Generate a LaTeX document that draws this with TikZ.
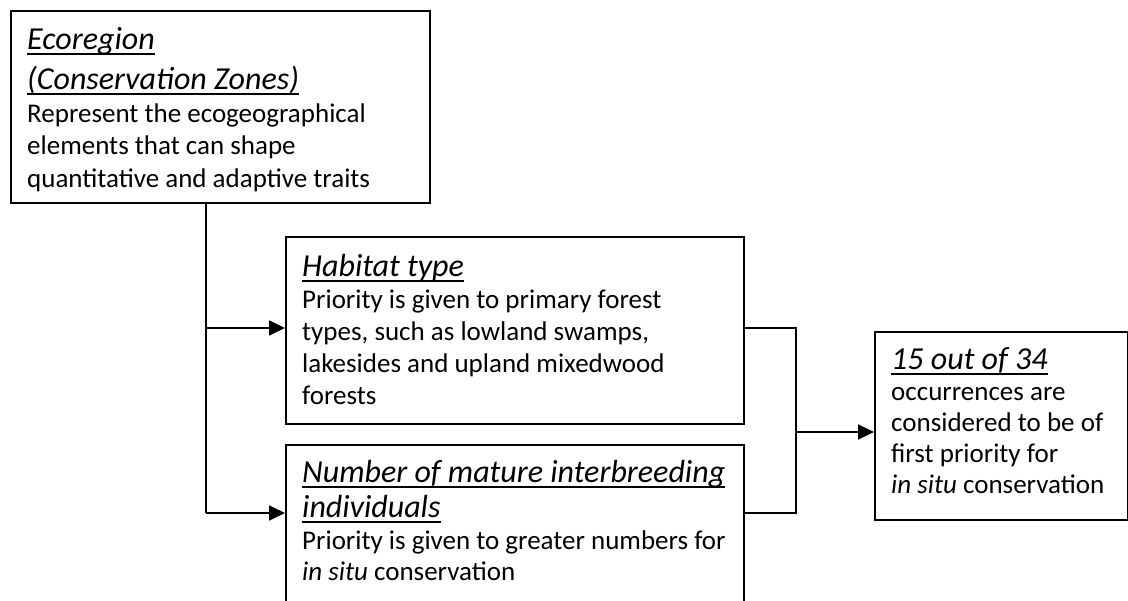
\documentclass[tikz,border=0pt]{standalone}
\usepackage{fontspec}
\setmainfont{Carlito}
\usetikzlibrary{arrows.meta}
\newsavebox\hdbox
\newcommand\hd[1]{\leavevmode\sbox\hdbox{#1}\rlap{\rule[-5.5pt]{\wd\hdbox}{2pt}}\usebox\hdbox}
\newcommand\hfont[1]{\fontsize{32pt}{#1}\selectfont\itshape}
\newcommand\bfont[1]{\fontsize{27pt}{#1}\selectfont\upshape}
\tikzset{
  boxnode/.style={draw=black, line width=1.8pt, anchor=north west, inner sep=0pt, fill=white},
  txt/.style={anchor=base west, inner sep=0pt, text=black},
  conn/.style={draw=black, line width=1.8pt},
  arr/.style={conn, -{Triangle[length=16pt,width=15pt]}}
}
\begin{document}
\begin{tikzpicture}[x=1pt,y=-1pt]
\clip (0,0) rectangle (1128,601);
\fill[white] (0,0) rectangle (1128,601);
% boxes
\node[boxnode, minimum width=419pt, minimum height=192pt] (eco) at (10,10) {};
\node[boxnode, minimum width=458pt, minimum height=187pt] (hab) at (285,236) {};
\node[boxnode, minimum width=458pt, minimum height=200pt] (num) at (285,444) {};
\node[boxnode, minimum width=253pt, minimum height=188pt] (res) at (874,331) {};
% texts
\node[txt] (ecoT) at (27,50) {\vtop{\hsize=400pt\parindent=0pt
  \hfont{40pt}\hd{Ecoregion}\par
  \hd{(Conservation Zones)}\par
  \bfont{32.5pt}Represent the ecogeographical\par
  elements that can shape\par
  quantitative and adaptive traits\par}};
\node[txt] (habT) at (302,277) {\vtop{\hsize=440pt\parindent=0pt
  \hfont{38pt}\hd{Habitat type}\par
  \bfont{32pt}Priority is given to primary forest\par
  types, such as lowland swamps,\par
  lakesides and upland mixedwood\par
  forests\par}};
\node[txt] (numT) at (302,483) {\vtop{\hsize=440pt\parindent=0pt
  \hfont{35pt}\hd{Number of mature interbreeding}\par
  \hd{individuals}\par
  \bfont{31.5pt}Priority is given to greater numbers for\par
  \textit{in situ} conservation\par}};
\node[txt] (resT) at (891,370) {\vtop{\hsize=230pt\parindent=0pt
  \hfont{38pt}\hd{15 out of 34}\par
  \bfont{31pt}occurrences are\par
  considered to be of\par
  first priority for\par
  \textit{in situ} conservation\par}};
% connector coordinates
\coordinate (trunkTop) at (206,202);
\coordinate (j1) at (206,328);
\coordinate (j2) at (206,513);
\coordinate (m1) at (796,328);
\coordinate (m2) at (796,513);
\coordinate (mo) at (796,432);
% connectors
\draw[conn] (trunkTop) -- (j2);
\draw[arr] (j1) -- (j1 -| hab.west);
\draw[arr] (j2) -- (j2 -| num.west);
\draw[conn] (m1 -| hab.east) -- (m1) -- (m2) -- (m2 -| num.east);
\draw[arr] (mo) -- (mo -| res.west);
\end{tikzpicture}
\end{document}
